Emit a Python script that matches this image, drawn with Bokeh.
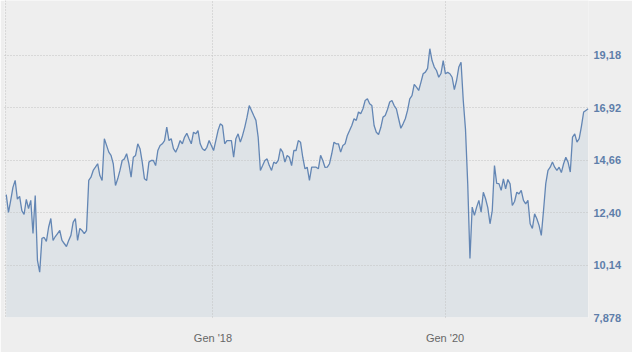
import pandas as pd
from bokeh.plotting import figure
from bokeh.models import Range1d, FixedTicker, CustomJSTickFormatter, Span, ColumnDataSource
from bokeh.embed import file_html
from bokeh.resources import INLINE

prices = [
    13.18, 12.41, 12.93, 13.49, 13.79, 12.98, 13.10, 12.49, 12.32, 12.97,
    12.58, 12.93, 11.50, 13.14, 10.34, 9.83, 11.29, 11.33, 11.16, 11.77,
    12.15, 11.20, 11.37, 11.50, 11.63, 11.20, 11.07, 10.94, 11.20, 11.42,
    11.98, 12.15, 11.20, 11.72, 11.63, 11.50, 11.63, 13.79, 13.93, 14.22,
    14.36, 14.51, 14.00, 13.79, 15.59, 15.30, 15.01, 14.87, 14.51, 13.57,
    13.86, 14.22, 14.65, 14.72, 14.94, 14.51, 13.93, 14.79, 14.87, 15.37,
    15.16, 14.58, 13.86, 13.79, 14.58, 14.65, 14.65, 14.43, 15.08, 15.30,
    15.37, 15.51, 16.09, 15.51, 15.59, 15.16, 15.01, 15.22, 15.51, 15.37,
    15.66, 15.82, 15.59, 15.37, 15.87, 15.80, 15.94, 15.37, 15.16, 15.08,
    15.22, 15.51, 15.30, 15.08, 15.51, 15.94, 16.23, 16.16, 15.37, 15.51,
    15.51, 15.51, 14.79, 15.59, 15.80, 15.44, 15.73, 16.09, 16.52, 17.02,
    16.81, 16.59, 16.38, 15.66, 14.22, 14.43, 14.65, 14.72, 14.43, 14.22,
    14.58, 14.52, 14.65, 15.16, 15.01, 14.58, 14.87, 14.79, 14.43, 15.08,
    15.08, 15.51, 15.44, 14.79, 14.29, 14.36, 13.79, 14.36, 14.36, 14.36,
    14.29, 14.87, 14.65, 14.35, 14.36, 14.51, 14.94, 15.44, 15.37, 15.37,
    15.01, 15.30, 15.37, 15.73, 15.94, 16.16, 16.45, 16.38, 16.74, 16.67,
    16.88, 17.24, 17.31, 17.10, 17.02, 16.16, 15.87, 15.77, 16.07, 16.52,
    16.59, 16.85, 17.17, 17.24, 17.02, 16.88, 16.45, 16.04, 16.23, 16.45,
    16.81, 17.31, 17.45, 17.93, 17.81, 17.67, 18.02, 18.39, 18.46, 18.62,
    19.47, 18.96, 18.68, 18.53, 18.24, 18.40, 18.96, 18.39, 18.45, 18.39,
    18.24, 17.71, 18.10, 18.68, 18.89, 17.24, 15.99, 13.65, 10.42, 12.64,
    12.28, 12.64, 12.93, 12.42, 13.28, 13.00, 12.62, 11.92, 12.49, 14.43,
    13.66, 13.65, 13.36, 13.86, 13.43, 13.83, 13.64, 12.71, 12.88, 13.28,
    13.21, 13.36, 12.93, 12.78, 12.93, 11.92, 11.72, 12.35, 12.14, 11.85,
    11.42, 12.49, 13.65, 14.22, 14.36, 14.58, 14.36, 14.22, 14.36, 14.13,
    14.51, 14.79, 14.58, 14.15, 15.66, 15.80, 15.44, 15.59, 16.12, 16.74,
    16.81, 16.88,
]
first_date = "2016-03-22"
last_date = "2021-03-26"
dates = pd.date_range(first_date, last_date, periods=len(prices))

y_ticks = [7.878, 10.14, 12.40, 14.66, 16.92, 19.18]
y_tick_labels = ["7,878", "10,14", "12,40", "14,66", "16,92", "19,18"]
x_tick_dates = ["2018-01-01", "2020-01-01"]
x_tick_labels = ["Gen '18", "Gen '20"]

x_ticks_ms = [int(pd.Timestamp(d).value // 10**6) for d in x_tick_dates]

src = ColumnDataSource(dict(date=dates, price=prices))

BG = "#eeeeee"
p = figure(
    width=632, height=352, x_axis_type="datetime", y_axis_location="right",
    output_backend="svg", toolbar_location=None,
    x_range=Range1d(pd.Timestamp("2016-03-16 12:00"), pd.Timestamp("2021-03-27 05:00")),
    y_range=Range1d(y_ticks[0], 21.55),
    min_border_left=4, min_border_right=44, min_border_top=0, min_border_bottom=35,
    background_fill_color=BG, border_fill_color=BG, outline_line_color=None,
)

p.varea(x="date", y1=y_ticks[0], y2="price", source=src, fill_color="#dee3e7")
ln = p.line(x="date", y="price", source=src, line_color="#6386b4", line_width=1.3)
ln.level = "overlay"

grid_color = "#c2c2c2"
p.ygrid.ticker = FixedTicker(ticks=y_ticks)
p.xgrid.ticker = FixedTicker(ticks=x_ticks_ms)
for g in (p.xgrid, p.ygrid):
    g.grid_line_color = grid_color
    g.grid_line_dash = "1 2"
    g.grid_line_width = 1
    g.level = "annotation"

left_edge = Span(location=pd.Timestamp("2016-03-19 18:00"), dimension="height",
                 line_color=grid_color, line_dash="1 2", line_width=1)
p.add_layout(left_edge)

xa = p.xaxis[0]
xa.ticker = FixedTicker(ticks=x_ticks_ms)
xa.formatter = CustomJSTickFormatter(
    args=dict(tvals=x_ticks_ms, tlabels=x_tick_labels),
    code="const i = tvals.findIndex(t => Math.abs(t - tick) < 1000); return i >= 0 ? tlabels[i] : '';")
xa.axis_line_color = None
xa.major_tick_line_color = None
xa.minor_tick_line_color = None
xa.major_label_text_color = "#666666"
xa.major_label_text_font = "Liberation Sans"
xa.major_label_text_font_size = "11px"
xa.major_label_standoff = 8

ya = p.yaxis[0]
ya.ticker = FixedTicker(ticks=y_ticks)
ya.formatter = CustomJSTickFormatter(
    args=dict(tvals=y_ticks, tlabels=y_tick_labels),
    code="const i = tvals.findIndex(t => Math.abs(t - tick) < 1e-6); return i >= 0 ? tlabels[i] : '';")
ya.axis_line_color = None
ya.major_tick_line_color = None
ya.minor_tick_line_color = None
ya.major_tick_out = 0
ya.major_label_text_color = "#5e7eaa"
ya.major_label_text_font = "Liberation Sans"
ya.major_label_text_font_style = "bold"
ya.major_label_text_font_size = "11px"
ya.major_label_standoff = 5

open("out.html", "w").write(file_html(p, INLINE))
